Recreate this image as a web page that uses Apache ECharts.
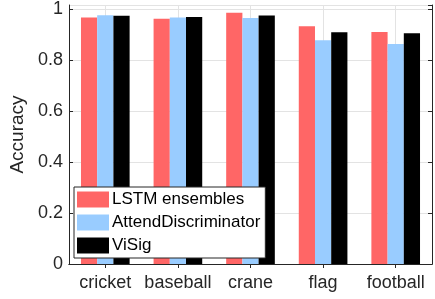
<!DOCTYPE html>
<html>
<head>
<meta charset="utf-8">
<script src="https://cdn.jsdelivr.net/npm/echarts@6/dist/echarts.min.js"></script>
<style>
  html, body { margin: 0; padding: 0; background: #fff; }
  #chart { width: 435px; height: 299px; }
</style>
</head>
<body>
<div id="chart"></div>
<script>
var categories = ['cricket', 'baseball', 'crane', 'flag', 'football'];
var lstmEnsembles = [0.967, 0.962, 0.986, 0.933, 0.910];
var attendDiscriminator = [0.976, 0.967, 0.965, 0.878, 0.863];
var viSig = [0.974, 0.969, 0.975, 0.909, 0.905];
var yTicks = [0, 0.2, 0.4, 0.6, 0.8, 1];

// helper axis with half-category slots so the grid lines fall on category centres
var slots = [];
for (var i = 0; i <= categories.length * 2; i++) slots.push('');

var font = 'Liberation Sans, Arial, sans-serif';
var axisCol = '#262626';
var gridCol = '#e3e3e3';

var chart = echarts.init(document.getElementById('chart'));
var option = {
  animation: false,
  grid: { left: 65, right: 3, top: 5, bottom: 35 },
  legend: {
    orient: 'vertical',
    left: 74,
    top: 187,
    icon: 'rect',
    itemWidth: 32,
    itemHeight: 16,
    itemGap: 6,
    padding: [4, 5, 4, 3],
    borderColor: axisCol,
    borderWidth: 1,
    borderRadius: 0,
    backgroundColor: '#fff',
    textStyle: { fontFamily: font, fontSize: 17, lineHeight: 16, color: '#000', padding: [0, 0, 0, -2] },
    data: ['LSTM ensembles', 'AttendDiscriminator', 'ViSig']
  },
  xAxis: [
    {
      type: 'category',
      data: categories,
      axisLine: { lineStyle: { color: axisCol } },
      axisTick: { show: true, inside: true, alignWithLabel: true, length: 4, lineStyle: { color: axisCol } },
      axisLabel: { interval: 0, fontFamily: font, fontSize: 18, color: axisCol, margin: 10 }
    },
    {
      type: 'category',
      position: 'top',
      data: slots,
      boundaryGap: false,
      axisLine: { show: true, lineStyle: { color: axisCol } },
      axisTick: { show: true, inside: true, length: 4, interval: function (idx) { return idx % 2 === 1; }, lineStyle: { color: axisCol } },
      axisLabel: { show: false },
      splitLine: { show: true, interval: function (idx) { return idx % 2 === 1; }, lineStyle: { color: gridCol } }
    }
  ],
  yAxis: [
    {
      type: 'value',
      min: 0,
      max: 1.016,
      interval: 0.2,
      name: 'Accuracy',
      nameLocation: 'middle',
      nameGap: 42,
      nameTextStyle: { fontFamily: font, fontSize: 19, color: axisCol },
      axisLine: { show: true, lineStyle: { color: axisCol } },
      axisTick: { show: true, inside: true, length: 4, lineStyle: { color: axisCol } },
      axisLabel: {
        fontFamily: font, fontSize: 18, color: axisCol, margin: 6, showMaxLabel: false,
        formatter: function (v) {
          for (var k = 0; k < yTicks.length; k++) if (Math.abs(v - yTicks[k]) < 1e-6) return String(yTicks[k]);
          return '';
        }
      },
      splitLine: { show: true, lineStyle: { color: gridCol } }
    },
    {
      type: 'value',
      position: 'right',
      min: 0,
      max: 1.016,
      interval: 0.2,
      axisLine: { show: true, lineStyle: { color: axisCol } },
      axisTick: { show: true, inside: true, length: 4, lineStyle: { color: axisCol } },
      axisLabel: { show: false },
      splitLine: { show: false }
    }
  ],
  series: [
    {
      name: 'LSTM ensembles', type: 'bar', data: lstmEnsembles,
      barGap: '0%', barCategoryGap: '33%',
      itemStyle: { color: '#ff6666' }
    },
    {
      name: 'AttendDiscriminator', type: 'bar', data: attendDiscriminator,
      barGap: '0%', barCategoryGap: '33%',
      itemStyle: { color: '#99ccff' }
    },
    {
      name: 'ViSig', type: 'bar', data: viSig,
      barGap: '0%', barCategoryGap: '33%',
      itemStyle: { color: '#000000' }
    }
  ]
};
chart.setOption(option);
</script>
</body>
</html>
